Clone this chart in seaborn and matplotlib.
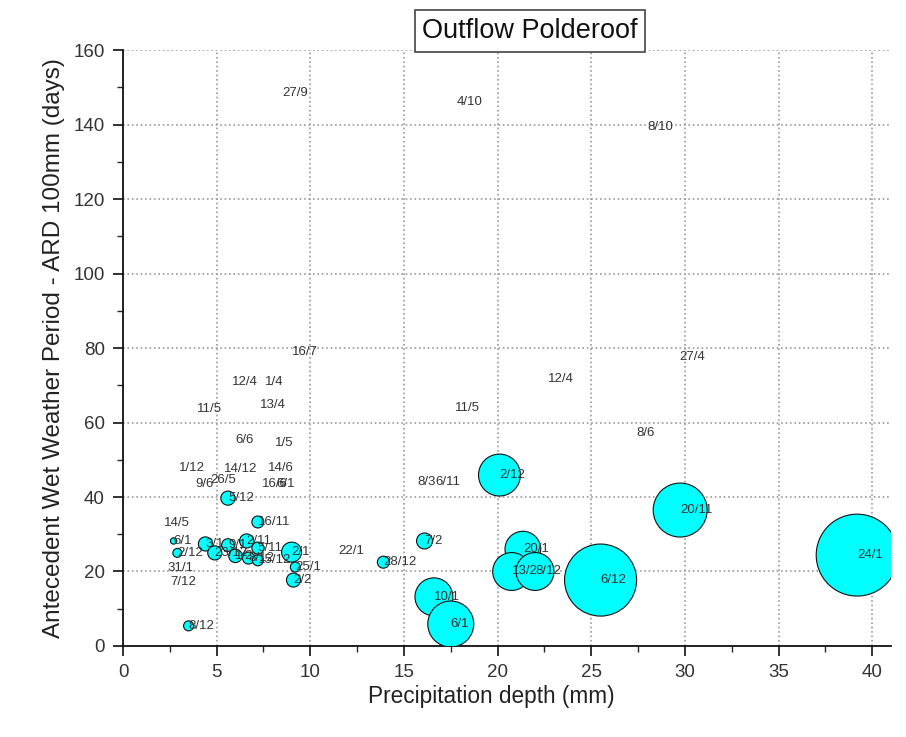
import numpy as np
import pandas as pd
import matplotlib
matplotlib.use("Agg")
import matplotlib.pyplot as plt
from matplotlib.ticker import MultipleLocator
import seaborn as sns

# event dates (day/month), rainfall depth, antecedent dry period, outflow (bubble size)
labels = [
    "27/9", "4/10", "8/10", "16/7", "27/4", "12/4", "11/5", "8/6", "8/3", "6/11",
    "12/4", "1/4", "11/5", "13/4", "6/6", "1/5", "1/12", "14/12", "14/6",
    "9/6", "26/5", "16/6", "6/1", "5/12", "14/5", "16/11",
    "6/1", "3/1", "9/1", "2/11", "5/11", "2/12", "23/12", "1/2", "8/12", "15/12",
    "31/1", "7/12", "8/12",
    "2/1", "25/1", "2/2", "22/1", "28/12", "7/2",
    "10/1", "6/1", "2/12", "20/1", "13/2", "8/12", "6/12", "20/11", "24/1",
]
precip = [
    8.5, 17.8, 28.0, 9.0, 29.7, 22.7, 17.7, 27.4, 15.7, 16.7,
    5.8, 7.6, 3.95, 7.3, 6.0, 8.1, 3.0, 5.4, 7.75,
    3.85, 4.65, 7.4, 8.2, 5.6, 2.2, 7.2,
    2.7, 4.4, 5.6, 6.6, 7.2, 2.9, 4.9, 6.0, 6.7, 7.2,
    2.35, 2.5, 3.5,
    9.0, 9.2, 9.1, 11.5, 13.9, 16.1,
    16.6, 17.5, 20.1, 21.35, 20.75, 22.0, 25.5, 29.75, 39.2,
]
awwp = [
    148.5, 146.0, 139.3, 79.0, 77.6, 71.7, 63.9, 57.2, 44.0, 44.0,
    70.9, 70.9, 63.6, 64.7, 55.3, 54.5, 47.8, 47.6, 47.8,
    43.4, 44.6, 43.6, 43.6, 39.7, 33.0, 33.3,
    28.2, 27.4, 27.1, 28.2, 26.3, 25.0, 25.0, 24.2, 23.6, 23.0,
    21.0, 17.2, 5.4,
    25.2, 21.2, 17.7, 25.5, 22.5, 28.2,
    13.2, 5.9, 45.9, 26.0, 20.0, 20.0, 17.7, 36.5, 24.4,
]
outflow = [
    0, 0, 0, 0, 0, 0, 0, 0, 0, 0,
    0, 0, 0, 0, 0, 0, 0, 0, 0,
    0, 0, 0, 0, 0.5, 0, 0.36,
    0.1, 0.5, 0.4, 0.5, 0.36, 0.2, 0.5, 0.45, 0.36, 0.3,
    0, 0, 0.25,
    1.0, 0.25, 0.49, 0, 0.36, 0.64,
    3.6, 5.3, 4.4, 3.2, 3.6, 3.6, 13.0, 7.3, 16.8,
]

df = pd.DataFrame({"label": labels, "precip": precip, "awwp": awwp, "outflow": outflow})

sns.set_theme(style="ticks")
plt.rcParams["font.family"] = ["Liberation Sans", "DejaVu Sans"]

fig = plt.figure(figsize=(9.06, 7.37), dpi=100)
ax = fig.add_axes([0.1358, 0.1235, 0.8475, 0.8085])

sns.scatterplot(
    data=df, x="precip", y="awwp", size="outflow",
    sizes=(0, 207 * 17), size_norm=(0, 17),
    color="#00ffff", edgecolor="#111111", linewidth=0.8,
    alpha=1.0, legend=False, ax=ax, zorder=3,
)

for _, row in df.iterrows():
    ax.text(row["precip"], row["awwp"], row["label"], fontsize=9.5,
            color="#333333", ha="left", va="center", zorder=5)

ax.set_xlim(0, 41)
ax.set_ylim(0, 160)
ax.xaxis.set_major_locator(MultipleLocator(5))
ax.xaxis.set_minor_locator(MultipleLocator(2.5))
ax.yaxis.set_major_locator(MultipleLocator(20))
ax.yaxis.set_minor_locator(MultipleLocator(10))
ax.tick_params(axis="both", which="major", direction="out", length=7,
               width=1.2, labelsize=13.5, colors="#111111", labelcolor="#333333", pad=6)
ax.tick_params(axis="both", which="minor", direction="out", length=4, width=1.0)
ax.grid(True, which="major", linestyle=":", color="#9a9a9a", linewidth=1.2)
ax.set_axisbelow(True)

for side in ["top", "right"]:
    ax.spines[side].set_visible(False)
for side in ["left", "bottom"]:
    ax.spines[side].set_linewidth(1.3)
    ax.spines[side].set_color("#111111")

ax.set_xlabel("Precipitation depth (mm)", fontsize=16.3, color="#222222",
              labelpad=3, x=0.479)
ax.set_ylabel("Antecedent Wet Weather Period - ARD 100mm (days)", fontsize=17.5,
              color="#222222", labelpad=6)

fig.text(0.585, 0.958, "Outflow Polderoof", fontsize=19.5, ha="center", va="center",
         color="#111111",
         bbox=dict(boxstyle="square,pad=0.28", facecolor="white", edgecolor="#444444",
                   linewidth=1.2))

fig.savefig("out.png", dpi=100)
